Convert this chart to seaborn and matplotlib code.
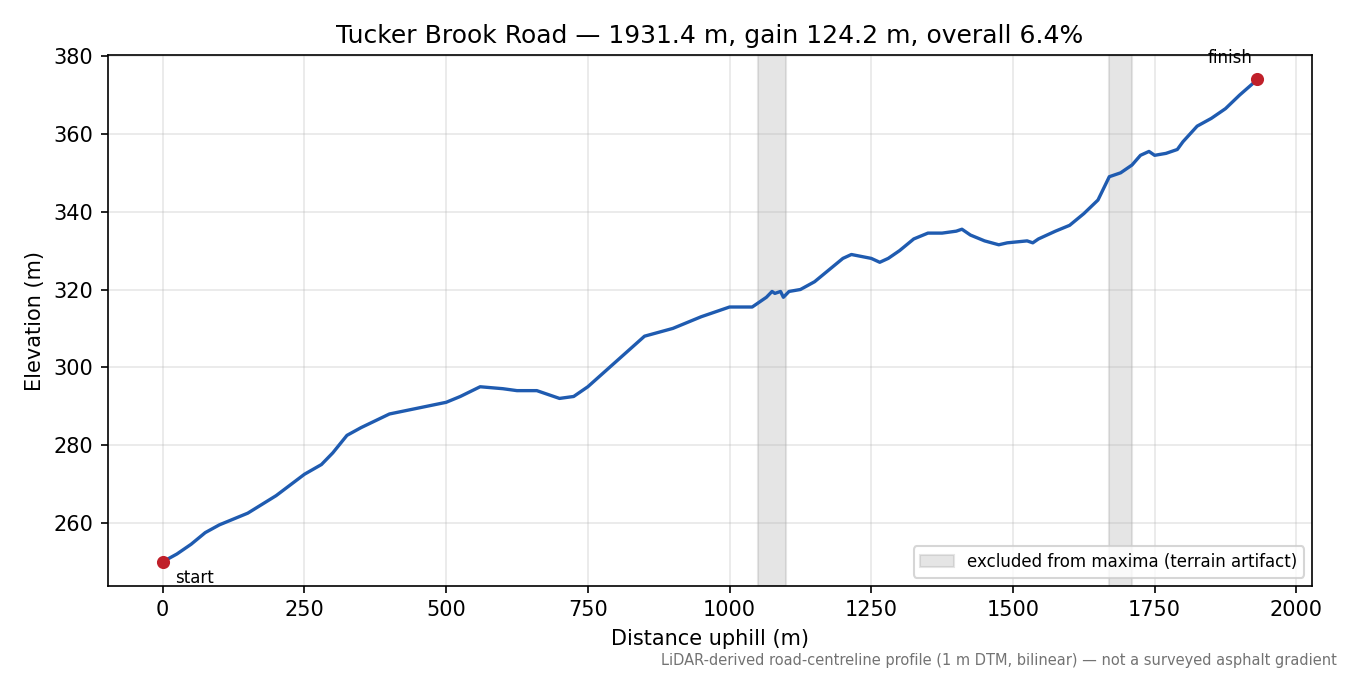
import matplotlib
matplotlib.use("Agg")
import matplotlib.pyplot as plt
import seaborn as sns
import pandas as pd

# profile
distance = [0, 25, 50, 75, 100, 150, 200, 250, 280, 300, 325, 350, 400, 450, 500, 525,
            560, 600, 625, 660, 700, 725, 750, 800, 850, 875, 900, 950, 1000, 1040,
            1050, 1065, 1075, 1080, 1090, 1095, 1105, 1125, 1150, 1175, 1200, 1215,
            1250, 1265, 1280, 1300, 1325, 1350, 1375, 1400, 1410, 1425, 1450, 1475,
            1490, 1525, 1535, 1545, 1575, 1600, 1625, 1650, 1660, 1670, 1690, 1710,
            1725, 1740, 1750, 1770, 1790, 1800, 1825, 1850, 1875, 1900, 1931.4]
elevation = [250, 252, 254.5, 257.5, 259.5, 262.5, 267, 272.5, 275, 278, 282.5, 284.5,
             288, 289.5, 291, 292.5, 295, 294.5, 294, 294, 292, 292.5, 295, 301.5, 308,
             309, 310, 313, 315.5, 315.5, 316.5, 318, 319.5, 319, 319.5, 318, 319.5,
             320, 322, 325, 328, 329, 328, 327, 328, 330, 333, 334.5, 334.5, 335, 335.5,
             334, 332.5, 331.5, 332, 332.5, 332, 333, 335, 336.5, 339.5, 343, 346, 349,
             350, 352, 354.5, 355.5, 354.5, 355, 356, 358, 362, 364, 366.5, 370, 374]
excluded = [(1050, 1100), (1670, 1710)]

df = pd.DataFrame({"distance": distance, "elevation": elevation})

fig, ax = plt.subplots(figsize=(9, 4.5), dpi=150)
for i, (a, b) in enumerate(excluded):
    ax.axvspan(a, b, color="0.6", alpha=0.25,
               label="excluded from maxima (terrain artifact)" if i == 0 else None)
sns.lineplot(data=df, x="distance", y="elevation", ax=ax, color="#1f5bb0", lw=1.6)
ax.scatter([distance[0], distance[-1]], [elevation[0], elevation[-1]],
           color="#c0202a", s=28, zorder=5)
ax.annotate("start", (distance[0], elevation[0]), xytext=(6, -10),
            textcoords="offset points", fontsize=8)
ax.annotate("finish", (distance[-1], elevation[-1]), xytext=(-24, 8),
            textcoords="offset points", fontsize=8)
ax.grid(True, alpha=0.3)
ax.set_xlabel("Distance uphill (m)")
ax.set_ylabel("Elevation (m)")
ax.set_title("Tucker Brook Road — 1931.4 m, gain 124.2 m, overall 6.4%")
ax.legend(loc="lower right", fontsize=8)
fig.text(0.99, 0.015, "LiDAR-derived road-centreline profile (1 m DTM, bilinear) — not a surveyed asphalt gradient",
         ha="right", fontsize=7, color="0.45")
fig.subplots_adjust(left=0.08, right=0.972, top=0.918, bottom=0.132)
fig.savefig("out.png")
